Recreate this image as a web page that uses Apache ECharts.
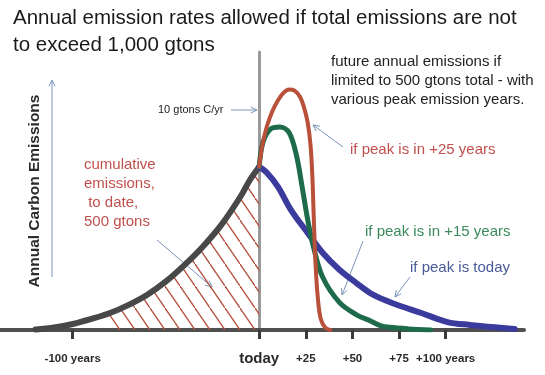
<!DOCTYPE html>
<html>
<head>
<meta charset="utf-8">
<script src="https://cdn.jsdelivr.net/npm/echarts@6/dist/echarts.min.js"></script>
<style>
  html, body { margin: 0; padding: 0; background: #fff; }
  #chart { width: 545px; height: 375px; }
</style>
</head>
<body>
<div id="chart"></div>
<script>
// years relative to today, annual emissions (gtons C/yr)
const grayYears = [-120, -110, -100, -90, -80, -70, -60, -50, -40, -30, -20, -10, -5, 0];
const grayVals = [0.02, 0.11, 0.27, 0.5, 0.77, 1.14, 1.6, 2.2, 2.95, 3.8, 4.8, 6.05, 6.8, 7.4];

const redYears = [0, 1.5, 4, 7, 10, 13, 16, 19, 22, 24, 26, 27.5, 28.5, 29.3, 30.2, 31.5, 33, 35.5, 38];
const redVals = [7.4, 8.3, 9.2, 9.9, 10.4, 10.75, 10.9, 10.85, 10.55, 10.1, 9.4, 8.4, 7.0, 5.0, 3.0, 1.4, 0.5, 0.1, 0];

const greenYears = [0, 2, 6, 11, 16, 20, 23, 26, 29, 34, 43, 52, 60, 65, 70, 80, 92];
const greenVals = [7.4, 8.5, 9.1, 9.2, 8.95, 7.9, 6.5, 5.0, 3.8, 2.4, 1.25, 0.7, 0.4, 0.2, 0.12, 0.05, 0];

const blueYears = [0, 4, 10, 17, 26, 34, 43, 52, 61, 72, 87, 101, 113, 131, 137];
const blueVals = [7.4, 7.14, 6.5, 5.45, 4.4, 3.5, 2.73, 2.14, 1.6, 1.2, 0.77, 0.36, 0.23, 0.09, 0.05];

const tickYears = [-100, 0, 25, 50, 75, 100];
const tickLabels = ['-100 years', 'today', '+25', '+50', '+75', '+100 years'];

const FONT = '"Liberation Sans", Arial, sans-serif';

function pairs(xs, ys) {
  return xs.map((x, i) => [x, ys[i]]);
}

// red hatch texture for the cumulative area
function hatch() {
  const c = document.createElement('canvas');
  c.width = 15;
  c.height = 22;
  const g = c.getContext('2d');
  g.strokeStyle = '#b5503f';
  g.lineWidth = 1.3;
  g.beginPath();
  g.moveTo(-15, -22);
  g.lineTo(30, 44);
  g.stroke();
  return c;
}

function arrow(x1, y1, x2, y2) {
  const a = Math.atan2(y2 - y1, x2 - x1), h = 7;
  const st = { stroke: '#7b94b8', lineWidth: 1, fill: null };
  return {
    type: 'group',
    children: [
      { type: 'line', shape: { x1, y1, x2, y2 }, style: st },
      {
        type: 'polyline',
        shape: {
          points: [
            [x2 - h * Math.cos(a - 0.45), y2 - h * Math.sin(a - 0.45)],
            [x2, y2],
            [x2 - h * Math.cos(a + 0.45), y2 - h * Math.sin(a + 0.45)]
          ]
        },
        style: st
      }
    ]
  };
}

function txt(x, y, text, opts) {
  return {
    type: 'text', x, y,
    style: Object.assign({ text, fontFamily: FONT, fontSize: 15, fill: '#222', verticalAlign: 'middle' }, opts)
  };
}

const chart = echarts.init(document.getElementById('chart'));

const grayData = pairs(grayYears, grayVals);
const hatchData = grayData.filter(p => p[0] >= -80);

function curve(name, data, color, width, z) {
  return {
    name, type: 'line', data, symbol: 'none', smooth: 0.35,
    lineStyle: { color, width, cap: 'round', join: 'round' }, z
  };
}

chart.setOption({
  animation: false,
  title: {
    text: 'Annual emission rates allowed if total emissions are not\nto exceed 1,000 gtons',
    left: 8,
    top: 0,
    textStyle: { fontFamily: FONT, fontSize: 20.5, fontWeight: 'normal', color: '#1a1a1a', lineHeight: 27 }
  },
  grid: { left: 0, right: 21, top: 52, bottom: 45 },
  xAxis: {
    type: 'value',
    min: -139,
    max: 142,
    splitLine: { show: false },
    axisLine: { lineStyle: { color: '#505050', width: 4 } },
    axisTick: {
      customValues: tickYears,
      length: 9,
      lineStyle: { color: '#3a3a3a', width: 3 }
    },
    axisLabel: {
      customValues: tickYears,
      margin: 20,
      formatter: v => {
        const s = tickLabels[tickYears.indexOf(v)];
        return v === 0 ? '{t|' + s + '}' : '{s|' + s + '}';
      },
      rich: {
        s: { fontFamily: FONT, fontSize: 11.5, fontWeight: 'bold', color: '#2a2a2a', lineHeight: 18 },
        t: { fontFamily: FONT, fontSize: 15, fontWeight: 'bold', color: '#2a2a2a', lineHeight: 18 }
      }
    }
  },
  yAxis: {
    type: 'value',
    min: 0,
    max: 12.6,
    splitLine: { show: false },
    axisTick: { show: false },
    axisLabel: { show: false },
    axisLine: { show: true, onZero: true, lineStyle: { color: '#9a9a9a', width: 3 } }
  },
  series: [
    {
      name: 'cumulative',
      type: 'line',
      data: hatchData,
      symbol: 'none',
      smooth: 0.35,
      lineStyle: { width: 0 },
      areaStyle: { color: { image: hatch(), repeat: 'repeat' }, opacity: 1 },
      z: 1
    },
    curve('history', grayData, '#484848', 6, 2),
    curve('peak today', pairs(blueYears, blueVals), '#3b3b9e', 6, 3),
    curve('peak +15', pairs(greenYears, greenVals), '#1e6b4c', 5, 4),
    curve('peak +25', pairs(redYears, redVals), '#b8503a', 4, 5)
  ],
  graphic: [
    {
      type: 'text', x: 35, y: 191, rotation: Math.PI / 2,
      style: {
        text: 'Annual Carbon Emissions', fontFamily: FONT, fontSize: 15.5, fontWeight: 'bold',
        fill: '#2a2a2a', align: 'center', verticalAlign: 'middle'
      }
    },
    arrow(52, 277, 52, 80),
    txt(158, 110, '10 gtons C/yr', { fontSize: 11 }),
    arrow(231, 110, 257, 110),
    txt(331, 52, 'future annual emissions if\nlimited to 500 gtons total - with\nvarious peak emission years.',
      { verticalAlign: 'top', lineHeight: 19 }),
    txt(84, 155, 'cumulative\nemissions,\n to date,\n500 gtons',
      { verticalAlign: 'top', lineHeight: 19, fill: '#c0504d' }),
    arrow(157, 240, 212, 287),
    txt(350, 150, 'if peak is in +25 years', { fill: '#c0504d' }),
    arrow(343, 147, 313, 125),
    txt(365, 232, 'if peak is in +15 years', { fill: '#3a8a5c' }),
    arrow(363, 241, 342, 295),
    txt(410, 268, 'if peak is today', { fill: '#4a5a98' }),
    arrow(410, 277, 395, 297)
  ]
});
</script>
</body>
</html>
